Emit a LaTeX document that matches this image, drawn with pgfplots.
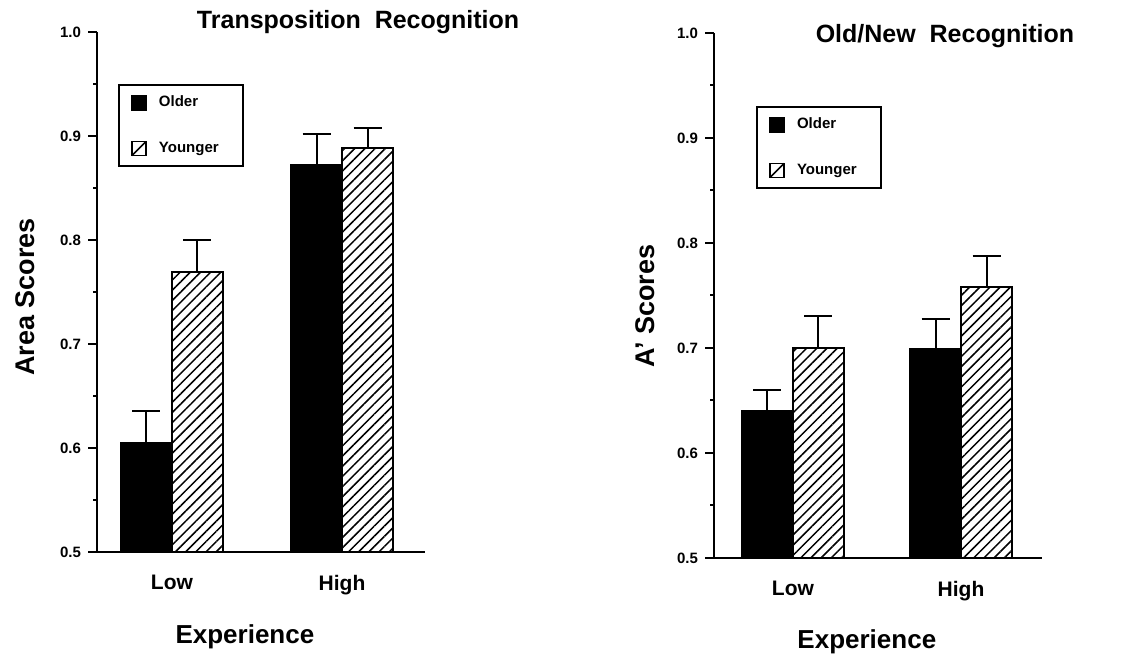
\documentclass[border=0pt]{standalone}
\usepackage{fontspec}
\setmainfont{Liberation Sans}
\usepackage{pgfplots}
\pgfplotsset{compat=1.18}
\usetikzlibrary{patterns.meta}

\pgfplotsset{
  myaxis/.style={
    scale only axis,
    width=164pt,
    axis lines=left,
    axis line style={-, line width=1.2pt},
    ymin=0.5, ymax=1.0,
    ytick={0.5,0.6,0.7,0.8,0.9,1.0},
    minor ytick={0.55,0.65,0.75,0.85,0.95},
    tick align=outside,
    major tick length=4.5pt,
    minor tick length=2pt,
    every tick/.style={line width=1pt, black},
    yticklabel style={font=\fontsize{7.5}{9}\bfseries, /pgf/number format/.cd, fixed, fixed zerofill, precision=1, assume math mode=true},
    xtick={0,1},
    xticklabels={Low,High},
    major x tick style={draw=none},
    x tick label style={font=\fontsize{10.5}{12}\bfseries, yshift=-3.5pt},
    xlabel={Experience},
    xlabel style={font=\fontsize{13}{15}\bfseries, anchor=center},
    ylabel style={font=\fontsize{13.5}{16}\bfseries, anchor=center},
    title style={font=\fontsize{12.5}{15}\bfseries, anchor=center},
    legend style={draw=black, line width=1pt, font=\fontsize{7.5}{9}\bfseries,
      row sep=12pt, inner xsep=6pt, inner ysep=3.5pt, anchor=north west},
    legend cell align=left,
  },
  olderbar/.style={forget plot, ybar, bar width=25.5pt, bar shift=-12.75pt, fill=black, draw=black, line width=1pt,
    error bars/.cd, y dir=plus, y explicit,
    error bar style={line width=1pt, black, xshift=-12.75pt},
    error mark options={rotate=90, mark size=7pt, line width=1pt, black}},
  youngerbar/.style={forget plot, ybar, bar width=25.5pt, bar shift=12.75pt, draw=black, line width=1pt,
    pattern={Lines[angle=45, distance=3.6pt, line width=0.75pt]},
    error bars/.cd, y dir=plus, y explicit,
    error bar style={line width=1pt, black, xshift=12.75pt},
    error mark options={rotate=90, mark size=7pt, line width=1pt, black}},
  olderleg/.style={legend image code/.code={\draw[fill=black, draw=black] (0pt,-3.5pt) rectangle (7pt,3.5pt); \path (11pt,0pt);}},
  youngerleg/.style={legend image code/.code={\draw[line width=0.8pt, fill=white] (0pt,-3.5pt) rectangle (7pt,3.5pt); \draw[line width=0.8pt] (0pt,-3.5pt) -- (7pt,3.5pt); \path (11pt,0pt);}},
}

\begin{document}
\begin{tikzpicture}
\path[use as bounding box] (0,0) rectangle (561pt,328pt);

% Left panel
\begin{axis}[myaxis,
  at={(48.5pt,52pt)}, anchor=south west,
  height=260pt,
  xmin=-0.441, xmax=1.488,
  title={Transposition\ \ Recognition},
  title style={at={(axis description cs:0.796,0.996)}},
  ylabel={Area Scores},
  ylabel style={at={(axis description cs:-0.22,0.49)}},
  xlabel style={at={(axis description cs:0.451,-0.163)}},
  legend style={at={(0.064,0.9)}},
]
\addplot[olderbar] coordinates {(0,0.605) +- (0,0.031) (1,0.872) +- (0,0.030)};
\addplot[youngerbar] coordinates {(0,0.769) +- (0,0.031) (1,0.888) +- (0,0.020)};
\addlegendimage{olderleg}
\addlegendentry{Older}
\addlegendimage{youngerleg}
\addlegendentry{Younger\rule{4pt}{0pt}}
\end{axis}

% Right panel
\begin{axis}[myaxis,
  at={(357pt,49pt)}, anchor=south west,
  height=262.5pt,
  xmin=-0.47, xmax=1.482,
  title={Old/New\ \ Recognition},
  title style={at={(axis description cs:0.704,0.971)}},
  ylabel={A' Scores},
  ylabel style={at={(axis description cs:-0.21,0.48)}},
  xlabel style={at={(axis description cs:0.466,-0.16)}},
  legend style={at={(0.128,0.861)}},
]
\addplot[olderbar] coordinates {(0,0.640) +- (0,0.020) (1,0.699) +- (0,0.029)};
\addplot[youngerbar] coordinates {(0,0.700) +- (0,0.030) (1,0.758) +- (0,0.030)};
\addlegendimage{olderleg}
\addlegendentry{Older}
\addlegendimage{youngerleg}
\addlegendentry{Younger\rule{4pt}{0pt}}
\end{axis}
\end{tikzpicture}
\end{document}
